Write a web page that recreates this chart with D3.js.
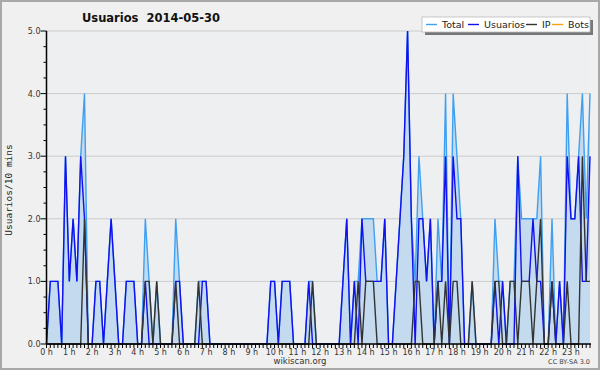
<!DOCTYPE html>
<html><head><meta charset="utf-8">
<script src="https://cdn.jsdelivr.net/npm/d3@7"></script>
<style>
html,body{margin:0;padding:0;background:#f0f0f0;}
svg{display:block;}
</style></head>
<body>
<svg id="chart" width="600" height="370"></svg>
<script>
// 10-minute slots, 144 per day
const hourLabels = d3.range(24).map(h => h + " h");
const usuarios = [
 0,1,1,1,0,3, 1,2,1,3,2,0, 0,1,1,0,1,2, 1,0,0,1,1,1,
 0,0,1,0,0,0, 0,0,0,0,1,1, 0,0,0,0,0,1, 1,0,0,0,0,0,
 0,0,0,0,0,0, 0,0,0,0,0,1, 1,0,1,1,1,0, 0,0,0,1,0,0,
 0,0,0,0,0,0, 1,2,0,1,0,2, 1,1,1,1,1,2, 0,0,1,2,3,5,
 2,0,2,2,1,2, 0,1,1,3,0,3, 2,2,0,0,0,0, 0,0,0,0,1,0,
 1,0,0,0,3,1, 1,1,2,1,1,0, 0,1,0,1,0,3, 2,2,3,1,1,3
];
const ip = [
 0,0,0,0,0,0, 0,0,0,0,2,0, 0,0,0,0,0,0, 0,0,0,0,0,0,
 0,0,1,1,0,1, 0,0,0,0,1,0, 0,0,0,0,1,0, 0,0,0,0,0,0,
 0,0,0,0,0,0, 0,0,0,0,0,0, 0,0,0,0,0,0, 0,0,0,0,1,0,
 0,0,0,0,0,0, 0,0,0,0,1,0, 1,1,1,0,0,0, 0,0,0,0,0,0,
 0,1,1,0,0,0, 0,1,0,1,0,1, 1,0,0,0,1,0, 0,0,0,0,1,1,
 0,0,1,1,0,1, 1,1,0,1,2,0, 0,1,0,0,0,1, 0,0,0,3,1,1
];
const bots = [
 0,0,0,0,0,0, 0,0,0,0,0,0, 0,0,0,0,0,0, 0,0,0,0,0,0,
 0,0,0,0,0,0, 0,0,0,0,0,0, 0,0,0,0,0,0, 0,0,0,0,0,0,
 0,0,0,0,0,0, 0,0,0,0,0,0, 0,0,0,0,0,0, 0,0,0,0,0,0,
 0,0,0,0,0,0, 0,0,0,0,0,0, 0,0,0,0,0,0, 0,0,0,0,0,0,
 0,0,0,0,0,0, 0,0,0,0,0,0, 0,0,0,0,0,0, 0,0,0,0,0,0,
 0,0,0,0,0,0, 0,0,0,0,0,0, 0,0,0,0,0,0, 0,0,0,0,0,0
];
const total = [
 0,1,1,1,0,3, 1,2,1,3,4,0, 0,1,1,0,1,2, 1,0,0,1,1,1,
 0,0,2,1,0,1, 0,0,0,0,2,1, 0,0,0,0,1,1, 1,0,0,0,0,0,
 0,0,0,0,0,0, 0,0,0,0,0,1, 1,0,1,1,1,0, 0,0,0,1,1,0,
 0,0,0,0,0,0, 1,2,0,1,1,2, 2,2,2,1,1,2, 0,0,1,2,3,5,
 2,1,3,2,1,2, 0,2,1,4,0,4, 3,2,0,0,1,0, 0,0,0,0,2,1,
 1,0,1,1,3,2, 2,2,2,2,3,0, 0,2,0,1,0,4, 2,2,3,4,2,4
];
const yTicks = [0,1,2,3,4,5];
const seriesNames = ["Total","Usuarios","IP","Bots"];
const seriesColors = ["#3f9ff0","#1010f0","#333333","#ffa010"];

const svg = d3.select("#chart");
const W = 600, H = 370;
const m = {left:46.5, right:590, top:31, bottom:344};

svg.append("rect").attr("x",1).attr("y",1).attr("width",W-2).attr("height",H-2)
  .attr("fill","#f0f0f0").attr("stroke","#a8a8a8").attr("stroke-width",2);
svg.append("rect").attr("x",m.left).attr("y",m.top).attr("width",m.right-m.left).attr("height",m.bottom-m.top)
  .attr("fill","#eeeff1");

const x = d3.scaleLinear().domain([0,143]).range([m.left,m.right]);
const y = d3.scaleLinear().domain([0,5]).range([m.bottom,m.top]);

// grid
svg.append("g").selectAll("line").data(yTicks.filter(d=>d>0)).join("line")
  .attr("x1",m.left).attr("x2",m.right).attr("y1",d=>y(d)).attr("y2",d=>y(d))
  .attr("stroke","#cccccc").attr("stroke-width",1);

// area under total
const idx = d3.range(144);
svg.append("path").datum(idx)
  .attr("d", d3.area().x(i=>x(i)).y0(y(0)).y1(i=>y(total[i])))
  .attr("fill","#c4dbef");

const line = arr => d3.line().x(i=>x(i)).y(i=>y(arr[i]));
[[total,0],[usuarios,1],[ip,2],[bots,3]].forEach(([arr,k])=>{
  if (k===3) return; // bots all zero; hidden under the axis
  svg.append("path").datum(idx).attr("d", line(arr)(idx))
    .attr("fill","none").attr("stroke",seriesColors[k]).attr("stroke-width",1.4)
    .attr("stroke-linejoin","miter");
});

// Y axis
const gy = svg.append("g").attr("transform",`translate(${m.left},0)`);
gy.append("line").attr("x1",0).attr("x2",0).attr("y1",m.top).attr("y2",m.bottom).attr("stroke","#000").attr("stroke-width",1.5);
gy.selectAll("line.t").data(d3.range(0,21)).join("line").attr("class","t")
  .attr("x1",d=>d%4===0?-6:-3).attr("x2",0).attr("y1",d=>y(d/4)).attr("y2",d=>y(d/4))
  .attr("stroke","#000").attr("stroke-width",1);
gy.selectAll("text").data(yTicks).join("text")
  .attr("x",-6).attr("y",d=>y(d)+3).attr("text-anchor","end")
  .attr("font-family","DejaVu Sans").attr("font-size",8).attr("fill","#333")
  .text(d=>d.toFixed(1));

// X axis
const gx = svg.append("g");
gx.append("line").attr("x1",m.left).attr("x2",m.right+1).attr("y1",m.bottom).attr("y2",m.bottom).attr("stroke","#000").attr("stroke-width",1.5);
gx.selectAll("line.t").data(d3.range(0,144)).join("line").attr("class","t")
  .attr("x1",d=>x(d)).attr("x2",d=>x(d)).attr("y1",m.bottom).attr("y2",m.bottom+4)
  .attr("stroke","#000").attr("stroke-width",1);
gx.selectAll("text").data(hourLabels).join("text")
  .attr("x",(d,i)=>x(i*6)).attr("y",m.bottom+11).attr("text-anchor","middle")
  .attr("font-family","DejaVu Sans").attr("font-size",8).attr("fill","#333")
  .text(d=>d);

// titles
svg.append("text").attr("x",151).attr("y",22).attr("text-anchor","middle")
  .attr("font-family","DejaVu Sans").attr("font-weight","bold").attr("font-size",11.5).attr("fill","#111")
  .style("white-space","pre").text("Usuarios  2014-05-30");
svg.append("text").attr("transform","translate(12,190) rotate(-90)").attr("text-anchor","middle")
  .attr("font-family","DejaVu Sans Mono").attr("font-size",9.5).attr("fill","#222")
  .text("Usuarios/10 mins");
svg.append("text").attr("x",300).attr("y",364).attr("text-anchor","middle")
  .attr("font-family","DejaVu Sans").attr("font-size",8.5).attr("fill","#333").text("wikiscan.org");
svg.append("text").attr("x",590).attr("y",364).attr("text-anchor","end")
  .attr("font-family","DejaVu Sans").attr("font-size",6.5).attr("fill","#444").text("CC BY-SA 3.0");

// legend
const lg = svg.append("g");
lg.append("rect").attr("x",425).attr("y",20).attr("width",168).attr("height",15).attr("fill","#777");
lg.append("rect").attr("x",422).attr("y",17).attr("width",168).attr("height",15).attr("fill","#ffffff").attr("stroke","#bbb").attr("stroke-width",0.8);
const lx = [426,468,526,552];
const tx = [442,484,542,568];
seriesNames.forEach((n,k)=>{
  lg.append("line").attr("x1",lx[k]).attr("x2",lx[k]+11).attr("y1",24.5).attr("y2",24.5)
    .attr("stroke",seriesColors[k]).attr("stroke-width",1.4);
  lg.append("text").attr("x",tx[k]).attr("y",28).attr("font-family","DejaVu Sans").attr("font-size",9.5)
    .attr("fill","#222").text(n);
});
</script>
</body></html>
